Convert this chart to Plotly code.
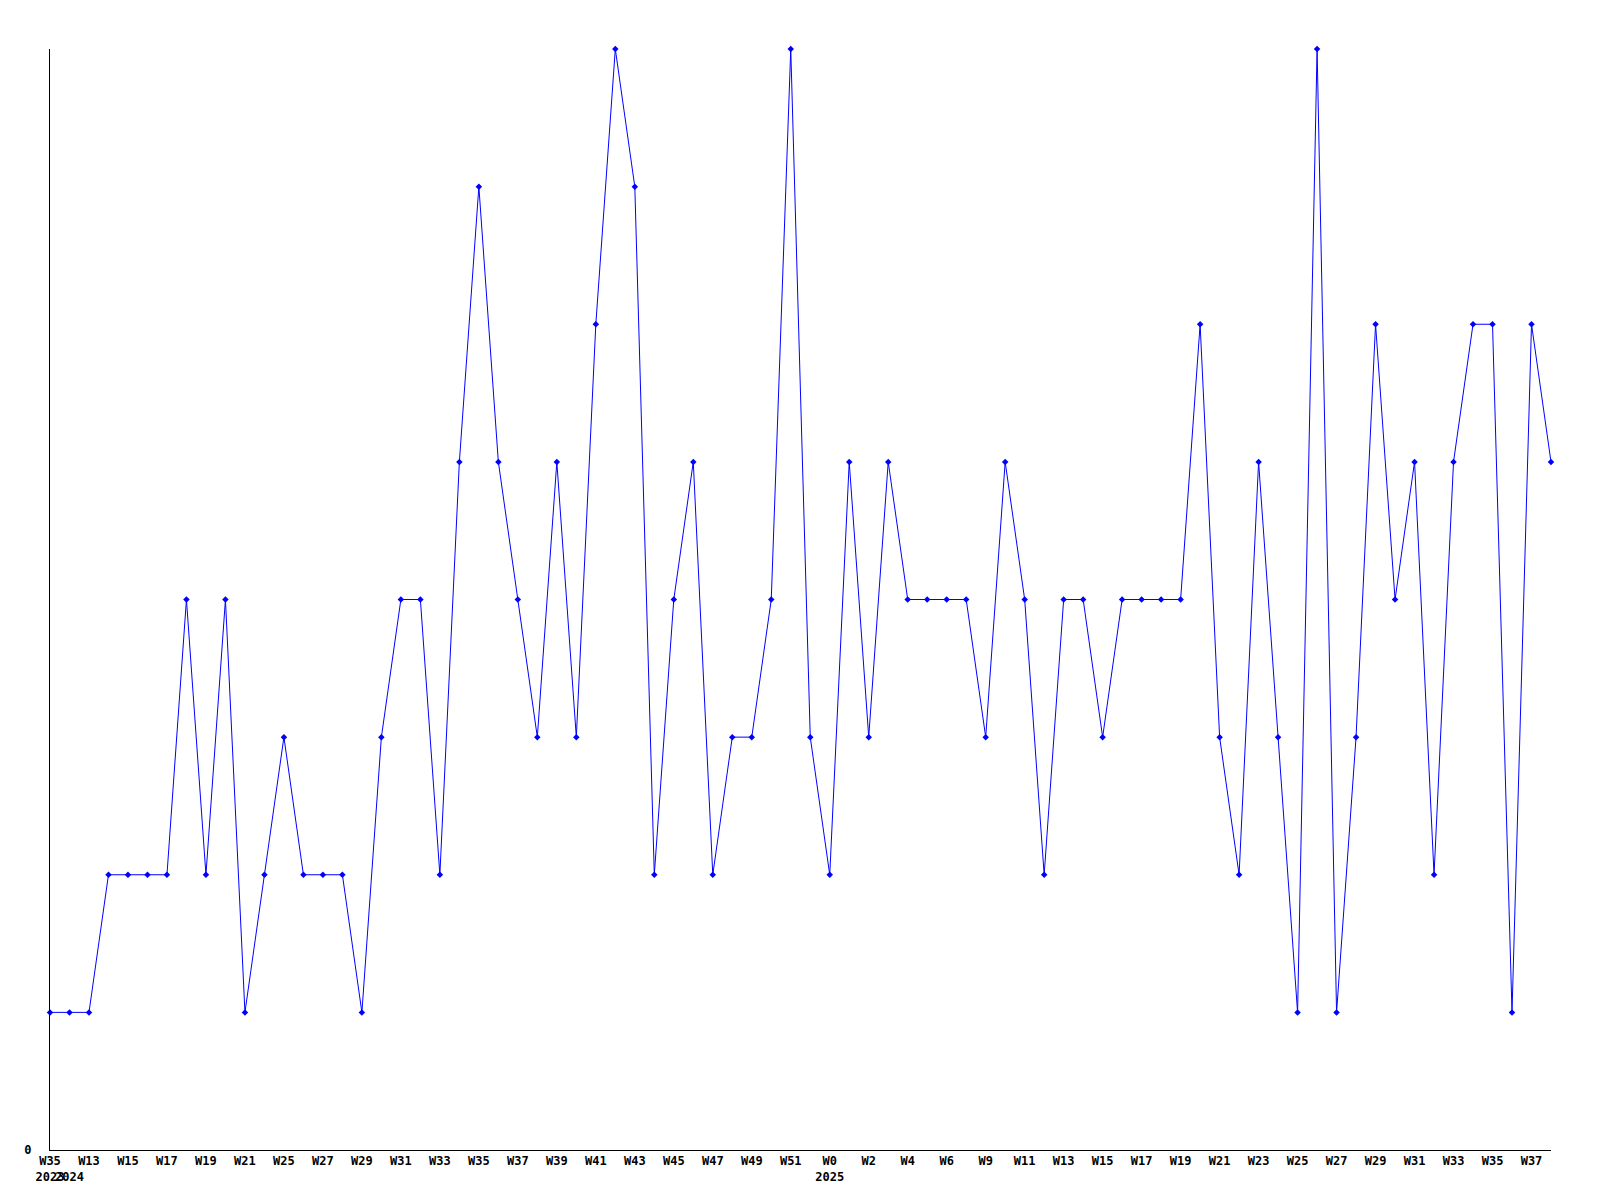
import plotly.graph_objects as go

weeks = ["W35", "W12", "W13", "W14", "W15", "W16", "W17", "W18", "W19", "W20",
         "W21", "W24", "W25", "W26", "W27", "W28", "W29", "W30", "W31", "W32",
         "W33", "W34", "W35", "W36", "W37", "W38", "W39", "W40", "W41", "W42",
         "W43", "W44", "W45", "W46", "W47", "W48", "W49", "W50", "W51", "W52",
         "W0", "W1", "W2", "W3", "W4", "W5", "W6", "W8", "W9", "W10",
         "W11", "W12", "W13", "W14", "W15", "W16", "W17", "W18", "W19", "W20",
         "W21", "W22", "W23", "W24", "W25", "W26", "W27", "W28", "W29", "W30",
         "W31", "W32", "W33", "W34", "W35", "W36", "W37", "W38"]
years = ["2023"] + ["2024"] * 39 + ["2025"] * 38
values = [1, 1, 1, 2, 2, 2, 2, 4, 2, 4,
          1, 2, 3, 2, 2, 2, 1, 3, 4, 4,
          2, 5, 7, 5, 4, 3, 5, 3, 6, 8,
          7, 2, 4, 5, 2, 3, 3, 4, 8, 3,
          2, 5, 3, 5, 4, 4, 4, 4, 3, 5,
          4, 2, 4, 4, 3, 4, 4, 4, 4, 6,
          3, 2, 5, 3, 1, 8, 1, 3, 6, 4,
          5, 2, 5, 6, 6, 1, 6, 5]

x = list(range(len(values)))
ticktext = []
for i, (w, yr) in enumerate(zip(weeks, years)):
    top = w if i % 2 == 0 else ""
    bottom = yr if (i == 0 or years[i - 1] != yr) else ""
    ticktext.append(top + "<br>" + bottom)

tfont = dict(family="DejaVu Sans Mono", size=12, color="black", weight="bold")

fig = go.Figure(go.Scatter(
    x=x, y=values, mode="lines+markers",
    line=dict(color="#0000ff", width=1),
    marker=dict(symbol="diamond", size=5, color="#0000ff"),
    cliponaxis=False,
))

fig.update_layout(
    width=1592, height=1192,
    margin=dict(l=42, r=49, t=41, b=50),
    paper_bgcolor="white", plot_bgcolor="white",
    showlegend=False,
    font=tfont,
    xaxis=dict(range=[0, len(values) - 1], tickmode="array", tickvals=x,
               ticktext=ticktext, tickangle=0, showgrid=False, zeroline=False,
               showline=True, linecolor="black", linewidth=1, ticks="",
               automargin=False, tickfont=tfont),
    yaxis=dict(range=[0, 8], tickmode="array", tickvals=[0], ticktext=["0"],
               showgrid=False, zeroline=False, showline=True, linecolor="black",
               linewidth=1, ticks="", ticklabelstandoff=15, automargin=False,
               tickfont=tfont),
)

fig.write_html("out.html")
